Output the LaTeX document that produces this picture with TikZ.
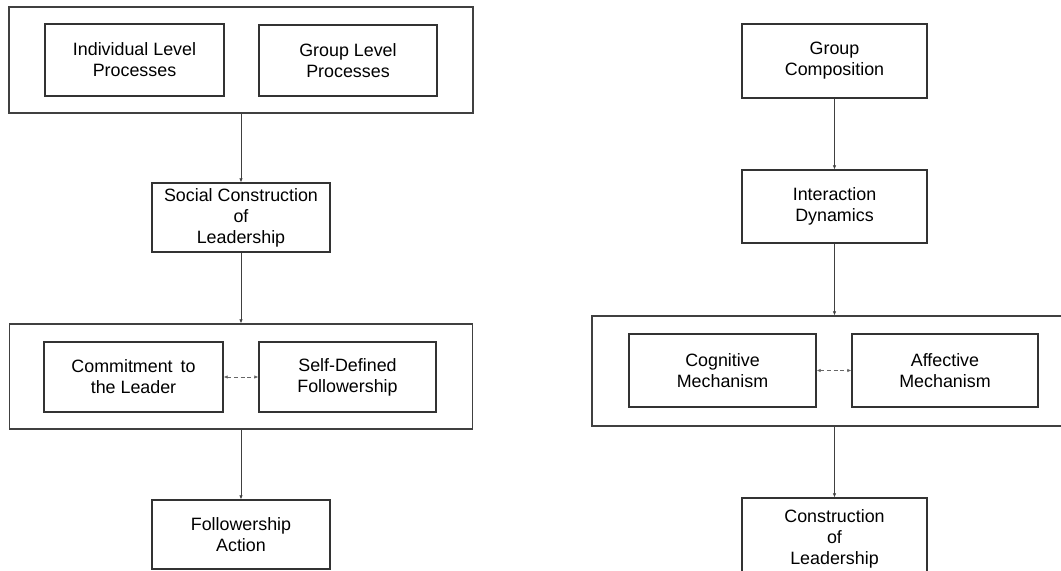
\documentclass[tikz,border=0pt]{standalone}
\usepackage{fontspec}
\setmainfont{Liberation Sans}
\usetikzlibrary{arrows.meta}
\begin{document}
\begin{tikzpicture}[x=0.75pt,y=-0.75pt,
  box/.style={draw=black!80,line width=0.9pt,inner sep=0pt,align=center,
    font=\fontsize{13.4}{15.8}\selectfont,text=black},
  outerbox/.style={draw=black!75,line width=0.9pt,inner sep=0pt},
  conn/.style={draw=black!75,line width=0.5pt,-{Latex[length=3pt,width=2.6pt]}},
  dconn/.style={draw=black!60,line width=0.5pt,dash pattern=on 3pt off 2pt,
    {Latex[length=3pt,width=2.6pt]}-{Latex[length=3pt,width=2.6pt]}}]
\useasboundingbox (0,0) rectangle (1061,571);
\clip (0,0) rectangle (1061,571);
% ---------- left diagram ----------
\node[outerbox,minimum width=464*0.75pt,minimum height=106*0.75pt] (o1) at (241,60) {};
\node[box,minimum width=179*0.75pt,minimum height=72*0.75pt] (il) at (134.5,60) {Individual Level\\Processes};
\node[box,minimum width=178*0.75pt,minimum height=71*0.75pt] (gl) at (348,60.5) {Group Level\\Processes};
\node[box,minimum width=178*0.75pt,minimum height=69*0.75pt] (sc) at (241,217.5) {Social Construction\\of\\Leadership};
\node[outerbox,minimum width=463*0.75pt,minimum height=105*0.75pt] (o2) at (241,376.5) {};
\node[box,minimum width=179*0.75pt,minimum height=70*0.75pt] (cl) at (133.5,377) {Commitment\, to\\the Leader};
\node[box,minimum width=177*0.75pt,minimum height=70*0.75pt] (sd) at (347.5,377) {Self-Defined\\Followership};
\node[box,minimum width=178*0.75pt,minimum height=69*0.75pt] (fa) at (241,534.5) {Followership\\Action};
\draw[conn] (o1.south) -- (sc.north);
\draw[conn] (sc.south) -- (sc.south |- o2.north);
\draw[conn] (fa.north |- o2.south) -- (fa.north);
\draw[dconn] (cl.east) -- (sd.west);
% ---------- right diagram ----------
\node[box,minimum width=185*0.75pt,minimum height=74*0.75pt] (gc) at (834.5,61) {Group\\Composition};
\node[box,minimum width=185*0.75pt,minimum height=73*0.75pt] (id) at (834.5,206.5) {Interaction\\Dynamics};
\node[outerbox,minimum width=500*0.75pt,minimum height=110*0.75pt] (o3) at (842,371) {};
\node[box,minimum width=187*0.75pt,minimum height=73*0.75pt] (cm) at (722.5,370.5) {Cognitive\\Mechanism};
\node[box,minimum width=186*0.75pt,minimum height=73*0.75pt] (am) at (945,370.5) {Affective\\Mechanism};
\node[box,minimum width=185*0.75pt,minimum height=82*0.75pt] (col) at (834.5,539) {Construction\\of\\Leadership};
\draw[conn] (gc.south) -- (id.north);
\draw[conn] (id.south) -- (id.south |- o3.north);
\draw[conn] (col.north |- o3.south) -- (col.north);
\draw[dconn] (cm.east) -- (am.west);
\end{tikzpicture}
\end{document}
